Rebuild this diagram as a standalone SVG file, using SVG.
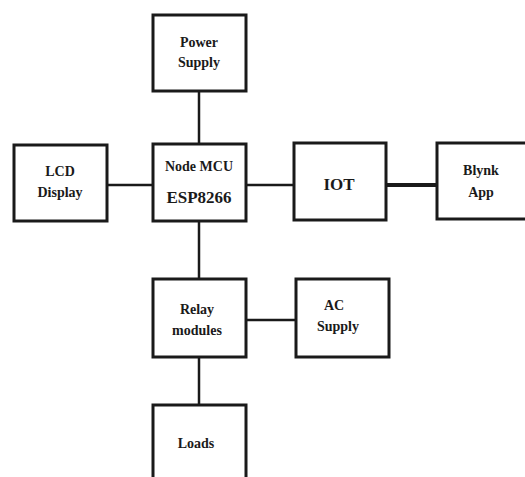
<svg xmlns="http://www.w3.org/2000/svg" width="525" height="477" viewBox="0 0 525 477">
<style>
.box{fill:#fff;stroke:#1a1a1a;stroke-width:3}
.ln{stroke:#1a1a1a;stroke-width:2.5;fill:none}
.t{font-family:"Liberation Serif","Times New Roman",serif;font-weight:bold;fill:#1a1a1a;text-anchor:middle;font-size:14px}
.tb{font-size:17px}
</style>
<rect width="525" height="477" fill="#fff"/>
<g id="connectors">
<line class="ln" x1="199" y1="91" x2="199" y2="144"/>
<line class="ln" x1="107" y1="185" x2="153" y2="185"/>
<line class="ln" x1="246" y1="185" x2="294" y2="185"/>
<line class="ln" x1="386" y1="185" x2="437" y2="185" style="stroke-width:4"/>
<line class="ln" x1="199" y1="221" x2="199" y2="279"/>
<line class="ln" x1="246" y1="320" x2="296" y2="320"/>
<line class="ln" x1="199" y1="357" x2="199" y2="405"/>
</g>
<g id="power">
<rect class="box" x="153" y="15" width="93" height="76"/>
<text class="t" x="199" y="47">Power</text>
<text class="t" x="199" y="67">Supply</text>
</g>
<g id="mcu">
<rect class="box" x="153" y="144" width="93" height="77"/>
<text class="t" x="199" y="171">Node MCU</text>
<text class="t tb" x="199" y="203">ESP8266</text>
</g>
<g id="lcd">
<rect class="box" x="14" y="145" width="93" height="76"/>
<text class="t" x="60" y="176">LCD</text>
<text class="t" x="60" y="197">Display</text>
</g>
<g id="iot">
<rect class="box" x="294" y="143" width="92" height="77"/>
<text class="t tb" x="339" y="190">IOT</text>
</g>
<g id="blynk">
<rect class="box" x="437" y="143" width="92" height="76"/>
<text class="t" x="481" y="175">Blynk</text>
<text class="t" x="481" y="197">App</text>
</g>
<g id="relay">
<rect class="box" x="153" y="279" width="93" height="78"/>
<text class="t" x="197" y="314">Relay</text>
<text class="t" x="197" y="335">modules</text>
</g>
<g id="ac">
<rect class="box" x="296" y="279" width="93" height="78"/>
<text class="t" x="334" y="310">AC</text>
<text class="t" x="338" y="331">Supply</text>
</g>
<g id="loads">
<rect class="box" x="153" y="405" width="93" height="80"/>
<text class="t" x="196" y="448">Loads</text>
</g>
</svg>
